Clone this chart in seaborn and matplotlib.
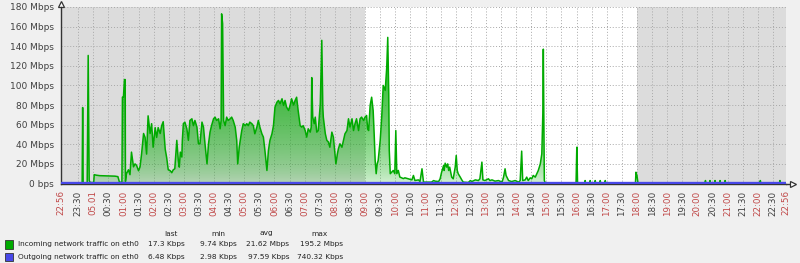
import numpy as np
import pandas as pd
import matplotlib
matplotlib.use("Agg")
import matplotlib.pyplot as plt
import seaborn as sns
from matplotlib.colors import to_rgb
from matplotlib.patches import Rectangle

# ---------------- data ----------------
# minutes since 22:56 (start of the 24 h window), incoming traffic in Mbps
in_minutes = [0, 42, 43, 44, 52, 52.5, 54, 56, 58, 65, 66, 70, 77, 87, 97, 107, 113, 116,
              121, 122, 124, 126, 127.5, 128, 130, 134, 137, 140, 144, 147, 150, 154, 157,
              160, 164, 167, 170, 173, 177, 180, 183, 187, 190, 193, 197, 200, 203, 207,
              210, 213, 217, 220, 223, 226, 230, 233, 235, 237, 240, 241, 243, 246, 250,
              253, 256, 260, 263, 266, 270, 273, 276, 280, 283, 286, 290, 293, 296, 299,
              303, 306, 309, 313, 316, 318, 319, 321, 323, 326, 329, 332, 336, 339, 342,
              346, 349, 351, 354, 356, 359, 362, 366, 369, 372, 375, 379, 382, 385, 389,
              392, 395, 399, 402, 405, 409, 412, 415, 419, 422, 425, 429, 432, 435, 439,
              442, 445, 448, 452, 455, 458, 462, 465, 468, 471, 475, 478, 481, 485, 488,
              491, 495, 497, 498, 500, 503, 505, 508, 511, 515, 518, 520, 521, 525, 528,
              531, 534, 538, 541, 544, 546, 549, 551, 554, 558, 561, 564, 568, 571, 574,
              578, 581, 584, 587, 591, 594, 597, 601, 604, 607, 609, 611, 614, 617, 620,
              622, 624, 626, 628, 630, 634, 637, 640, 644, 647, 649, 651, 652, 654, 657,
              660, 663, 665, 667, 670, 673, 680, 683, 690, 697, 700, 703, 710, 713, 717,
              720, 736, 740, 743, 750, 753, 756, 760, 761, 763, 766, 768, 770, 772, 774,
              776, 779, 783, 785, 787, 789, 793, 796, 799, 809, 813, 816, 823, 829, 832,
              836, 838, 842, 849, 852, 856, 862, 869, 876, 879, 882, 884, 889, 895, 902,
              909, 912, 915, 917, 922, 925, 928, 932, 935, 938, 942, 945, 948, 952, 955,
              957, 958, 960, 962, 1023, 1024.5, 1026, 1040, 1041, 1042, 1050, 1051, 1052,
              1060, 1061, 1062, 1070, 1071, 1072, 1080, 1081, 1082, 1141, 1142, 1144, 1146,
              1279, 1280, 1281, 1288, 1289, 1290, 1298, 1299, 1300, 1308, 1309, 1310, 1318,
              1319, 1320, 1388, 1389, 1390, 1427, 1428, 1429, 1440]
in_mbps = [0.5, 0.5, 77.5, 0.5, 0.5, 32, 130.6, 3, 1, 1, 9, 8.5, 8, 7.8, 7.5, 7.5, 7, 1.5,
           1, 88, 88, 106, 106, 2, 10, 14, 9, 32, 17, 20, 18.6, 13, 17,
           30, 51, 47, 30, 69, 51, 61, 37, 57, 47, 57, 51, 59, 63, 35,
           26, 14, 13, 11, 14, 15, 44, 23.5, 16.7, 32, 27, 44, 61, 62.6, 55.8,
           44, 64.3, 66, 59, 64.3, 57.5, 40.5, 40.5, 62.6, 57.5, 40.5, 20, 40.5, 52.4, 59,
           66, 67.7, 64.3, 66, 55.8, 64.3, 173, 163, 64.3, 59, 67.7, 64.3, 66, 67.7, 64.3,
           57.5, 44, 20, 37, 44, 54, 61, 59, 61, 59, 62.6, 61, 59, 50.7, 57.5,
           64.3, 57.5, 50.7, 47.3, 33.7, 13.3, 33.7, 44, 50.7, 59, 77.9, 83, 84.7, 81.3, 86.4,
           79.6, 84.7, 77.9, 74.5, 79.6, 86.4, 80, 84.7, 88, 74.5, 59, 57.5, 59, 54, 47.3,
           55.8, 52.4, 57.5, 108, 67.7, 61, 67.7, 52.4, 54, 81.3, 146, 77.9, 67.7, 50.7, 44,
           42.4, 37, 52.4, 47.3, 30.3, 20, 30.3, 35.4, 40.5, 37, 44, 50.7, 54, 66, 57.5,
           66, 54, 61, 66, 54, 66, 67.7, 64.3, 67.7, 69.4, 55.8, 54, 79.6, 88, 74.5,
           50.7, 23.5, 10, 20, 23.5, 44, 67.7, 100, 95, 118.7, 149, 91.5, 33.7, 10, 11.6,
           13.3, 10, 54, 10, 13.3, 6.6, 5, 5.8, 4.8, 3.7, 8.2, 3, 3.7, 2, 15,
           1.4, 1.4, 3, 2.4, 2, 4.8, 11.6, 18.4, 13.3, 20.7, 16.7, 20, 13.3, 16.7, 11.6,
           6.5, 4.8, 16.7, 28.6, 13.3, 9.9, 6.5, 3.7, 1.4, 1, 3, 2, 3.7, 3, 4.8,
           21.8, 3.7, 3, 4.8, 3, 3.7, 2.4, 3, 1.4, 6.5, 15, 8.2, 3, 2, 3,
           1.4, 3, 33, 3, 3.7, 6.5, 3, 5.8, 4.8, 8.2, 6.5, 9.9, 13.3, 20, 30.3,
           71, 137, 3, 0.5, 0.5, 37, 0.5, 0.5, 3, 0.5, 0.5, 3, 0.5,
           0.5, 3, 0.5, 0.5, 3, 0.5, 0.5, 3, 0.5, 0.5, 11.5, 8, 0.5,
           0.5, 3, 0.5, 0.5, 3, 0.5, 0.5, 3, 0.5, 0.5, 3, 0.5, 0.5,
           3, 0.5, 0.5, 3, 0.5, 0.5, 3, 0.5, 0.5]
# outgoing traffic (max 740 Kbps -> practically zero on this scale)
out_minutes = [0, 1440]
out_mbps = [0.6, 0.6]

work_start, work_end = "09:00", "18:00"
start_time = "22:56"

tick_times = ["22:56", "23:30", "00:00", "00:30", "01:00", "01:30", "02:00", "02:30",
              "03:00", "03:30", "04:00", "04:30", "05:00", "05:30", "06:00", "06:30",
              "07:00", "07:30", "08:00", "08:30", "09:00", "09:30", "10:00", "10:30",
              "11:00", "11:30", "12:00", "12:30", "13:00", "13:30", "14:00", "14:30",
              "15:00", "15:30", "16:00", "16:30", "17:00", "17:30", "18:00", "18:30",
              "19:00", "19:30", "20:00", "20:30", "21:00", "21:30", "22:00", "22:30", "22:56"]
tick_labels = [t if t != "00:00" else "05.01" for t in tick_times]

y_ticks = [0, 20, 40, 60, 80, 100, 120, 140, 160, 180]
y_labels = ["0 bps"] + [f"{v} Mbps" for v in y_ticks[1:]]

legend_names = ["Incoming network traffic on eth0", "Outgoing network traffic on eth0"]
legend_headers = ["last", "min", "avg", "max"]
legend_values = [["17.3 Kbps", "9.74 Kbps", "21.62 Mbps", "195.2 Mbps"],
                 ["6.48 Kbps", "2.98 Kbps", "97.59 Kbps", "740.32 Kbps"]]

GREEN = "#00aa00"
BLUE = "#4848e8"
RED_TXT = "#c04848"
GRAY_TXT = "#404040"


def to_offset(t, last=False):
    h, m = map(int, t.split(":"))
    sh, sm = map(int, start_time.split(":"))
    off = (h * 60 + m - (sh * 60 + sm)) % 1440
    return 1440 if (last and off == 0) else off


# ---------------- figure ----------------
sns.set_style("white")
plt.rcParams['font.family'] = ['DejaVu Sans']

W, H = 800, 263
fig = plt.figure(figsize=(W / 100, H / 100), dpi=100, facecolor="#f0f0f0")
ax = fig.add_axes([61 / W, 1 - 183.5 / H, 725 / W, 176.5 / H])
ax.set_facecolor("#dcdcdc")
ax.axvspan(to_offset(work_start), to_offset(work_end), color="white", zorder=0, lw=0)

df_in = pd.DataFrame({"minute": in_minutes, "mbps": in_mbps})
df_out = pd.DataFrame({"minute": out_minutes, "mbps": out_mbps})

# gradient fill under incoming traffic
poly = ax.fill_between(df_in["minute"], df_in["mbps"], 0, facecolor="none", edgecolor="none")
path = poly.get_paths()[0]
grad = np.zeros((256, 1, 4))
grad[..., :3] = to_rgb(GREEN)
frac = np.linspace(1.0, 0.0, 256)
grad[..., 3] = (0.16 + 0.84 * frac ** 0.65)[:, None]
im = ax.imshow(grad, extent=[0, 1440, 0, 180], aspect="auto", origin="upper", zorder=1.5)
im.set_clip_path(path, transform=ax.transData)

sns.lineplot(data=df_in, x="minute", y="mbps", color=GREEN, lw=1.1, ax=ax,
             estimator=None, sort=False, zorder=3)
sns.lineplot(data=df_out, x="minute", y="mbps", color=BLUE, lw=2.4, ax=ax,
             estimator=None, sort=False, zorder=4)

ax.set_xlim(0, 1440)
ax.set_ylim(0, 180)
ax.set_xlabel("")
ax.set_ylabel("")

positions = [to_offset(t, last=(i == len(tick_times) - 1)) for i, t in enumerate(tick_times)]
ax.set_xticks(positions)
ax.set_xticklabels(tick_labels, rotation=90, fontsize=6.3)
for t, lab in zip(tick_times, ax.get_xticklabels()):
    lab.set_color(RED_TXT if t.endswith(":00") or t == "22:56" else GRAY_TXT)
ax.set_yticks(y_ticks)
ax.set_yticklabels(y_labels, fontsize=6.5, color=GRAY_TXT)

ax.tick_params(axis="both", direction="out", length=3, width=0.8, color="#333333", pad=2)
ax.set_axisbelow(True)
ax.grid(True, color="#a8a8a8", linestyle=(0, (1, 2)), lw=0.7)

for s in ["top", "right"]:
    ax.spines[s].set_visible(False)
for s in ["left", "bottom"]:
    ax.spines[s].set_color("#333333")
    ax.spines[s].set_linewidth(1.0)

# axis arrows
ax.plot([1.0, 1.008], [0, 0], color="#333333", lw=1, transform=ax.transAxes, clip_on=False)
ax.plot([1.010], [0], marker=">", ms=5, mfc="white", mec="#333333", mew=0.9,
        transform=ax.transAxes, clip_on=False)
ax.plot([0, 0], [1.0, 1.01], color="#333333", lw=1, transform=ax.transAxes, clip_on=False)
ax.plot([0], [1.018], marker="^", ms=5, mfc="white", mec="#333333", mew=0.9,
        transform=ax.transAxes, clip_on=False)

# ---------------- legend ----------------
def fx(px):
    return px / W


def fy(py):
    return 1 - py / H


LFS = 5.3
hdr_x = [171, 218, 266, 319]
val_right = [185, 237, 289, 343]
for hx, h in zip(hdr_x, legend_headers):
    fig.text(fx(hx), fy(233.5), h, ha="center", va="center", fontsize=LFS, color="#222222")
rows_y = [244.3, 256.7]
for ry, name, vals, col in zip(rows_y, legend_names, legend_values, [GREEN, BLUE]):
    fig.patches.append(Rectangle((fx(5), fy(ry + 4.2)), 8.3 / W, 8.3 / H, transform=fig.transFigure,
                                 facecolor=col, edgecolor="#333333", lw=0.6))
    fig.text(fx(18), fy(ry), name, ha="left", va="center", fontsize=LFS, color="#222222")
    for vx, v in zip(val_right, vals):
        fig.text(fx(vx), fy(ry), v, ha="right", va="center", fontsize=LFS, color="#222222")

fig.savefig("out.png", dpi=100, facecolor=fig.get_facecolor())
